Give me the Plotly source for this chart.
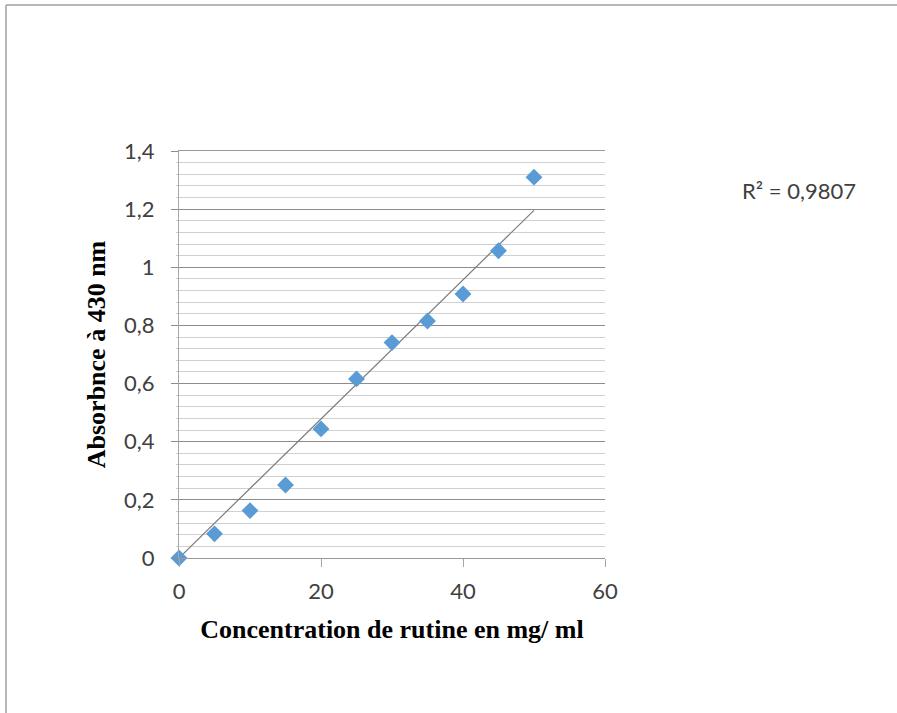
import numpy as np
import plotly.graph_objects as go

# Data
concentration = [0, 5, 10, 15, 20, 25, 30, 35, 40, 45, 50]
absorbance = [0.0, 0.083, 0.163, 0.251, 0.444, 0.616, 0.741, 0.815, 0.908, 1.057, 1.31]
r2_text = "R² = 0,9807"
y_ticks = [0, 0.2, 0.4, 0.6, 0.8, 1.0, 1.2, 1.4]
y_tick_labels = ["0", "0,2", "0,4", "0,6", "0,8", "1", "1,2", "1,4"]
x_ticks = [0, 20, 40, 60]

x = np.array(concentration, dtype=float)
y = np.array(absorbance, dtype=float)
# linear trendline forced through origin (as in the reference)
slope = float((x * y).sum() / (x * x).sum())
trend_x = [x.min(), x.max()]
trend_y = [slope * v for v in trend_x]

W, H = 897, 713
L, R, T, B = 179, 605, 151, 558
pw, ph = R - L, B - T

def px(xpix):
    return (xpix - L) / pw

def py(ypix):
    return (B - ypix) / ph

fig = go.Figure()
fig.add_trace(go.Scatter(
    x=trend_x, y=trend_y, mode="lines",
    line=dict(color="#7a7a7a", width=1.2),
    showlegend=False, hoverinfo="skip"))
fig.add_trace(go.Scatter(
    x=concentration, y=absorbance, mode="markers",
    marker=dict(symbol="diamond", size=13, color="#5B9BD5",
                line=dict(width=0)),
    cliponaxis=False,
    showlegend=False))

tick_font = dict(family="Lato, 'Open Sans', sans-serif", size=22, color="#404040")
title_font = dict(family="'Liberation Serif', 'Times New Roman', serif", size=26, color="#000000")

fig.update_layout(
    width=W, height=H,
    margin=dict(l=L, r=W - R, t=T, b=H - B),
    paper_bgcolor="white", plot_bgcolor="white",
    xaxis=dict(
        range=[0, 60], tickvals=x_ticks, ticktext=[str(v) for v in x_ticks],
        showgrid=False, zeroline=False,
        showline=True, linecolor="#999999", linewidth=1, mirror=True,
        ticks="outside", ticklen=8, tickcolor="#a6a6a6",
        ticklabelstandoff=6,
        tickfont=tick_font,
        title=dict(text="<b>Concentration de rutine en mg/ ml</b>", font=title_font, standoff=16),
    ),
    yaxis=dict(
        range=[0, 1.4], tickvals=y_ticks, ticktext=y_tick_labels,
        showgrid=True, gridcolor="#8c8c8c", gridwidth=1,
        zeroline=False,
        showline=True, linecolor="#a6a6a6", linewidth=1,
        ticks="outside", ticklen=7, tickcolor="#8c8c8c",
        ticklabelstandoff=12,
        tickfont=tick_font,
        minor=dict(dtick=0.04, showgrid=True, gridcolor="#d0d0d0", gridwidth=1,
                   ticks="outside", ticklen=2, tickcolor="#d0d0d0"),
        title=dict(text="<b>Absorbnce à 430 nm</b>", font=title_font, standoff=10),
    ),
    annotations=[dict(
        text=r2_text, xref="paper", yref="paper",
        x=px(740), y=py(190), xanchor="left", yanchor="middle",
        showarrow=False,
        font=dict(family="Lato, 'Open Sans', sans-serif", size=22, color="#404040"),
    )],
    shapes=[
        dict(type="line", xref="paper", yref="paper",
             x0=px(6), x1=px(W + 20), y0=py(5), y1=py(5),
             line=dict(color="#a0a0a0", width=1.5)),
        dict(type="line", xref="paper", yref="paper",
             x0=px(6), x1=px(6), y0=py(5), y1=py(H + 20),
             line=dict(color="#a0a0a0", width=1.5)),
    ],
)

fig.write_html("out.html")
